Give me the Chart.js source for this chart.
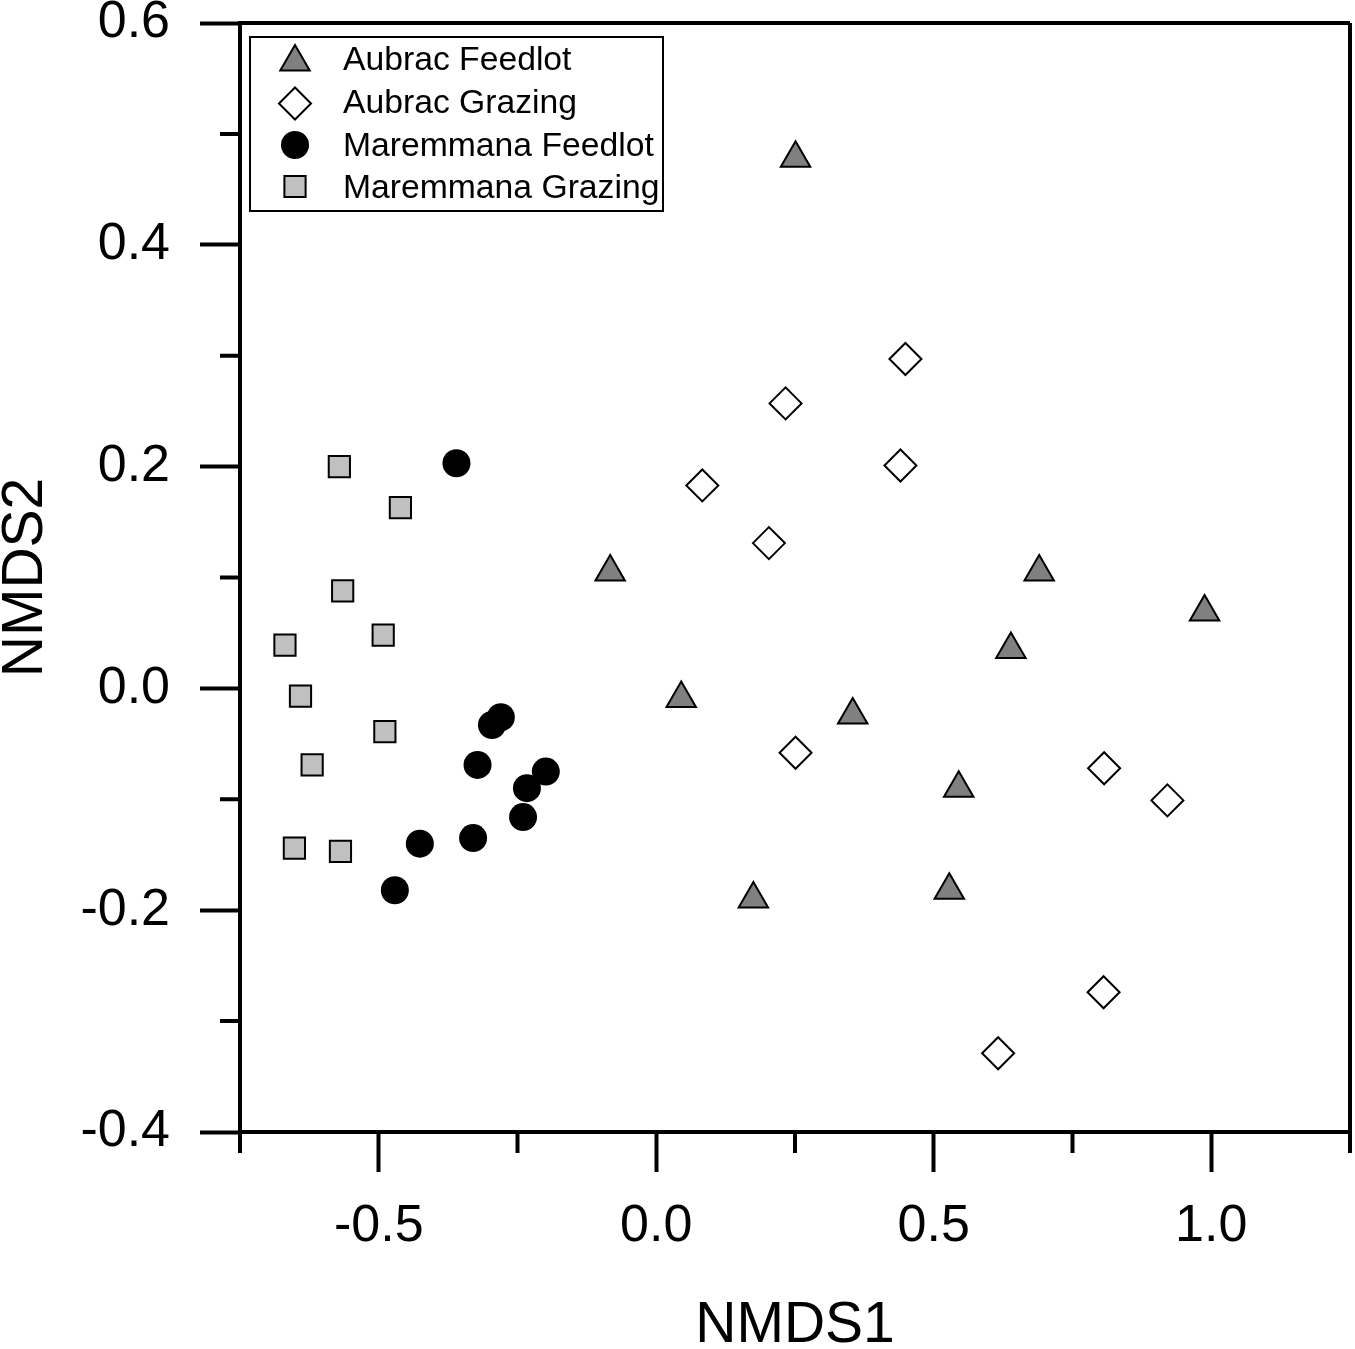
<!DOCTYPE html>
<html>
<head>
<meta charset="utf-8">
<script src="https://cdn.jsdelivr.net/npm/chart.js@4.4.1/dist/chart.umd.min.js"></script>
<style>
    html, body { margin: 0; padding: 0; background: #fff; overflow: hidden; }
    #contenedor { width: 1355px; height: 1349px; }
    canvas { display: block; }
</style>
</head>
<body>
<div id="contenedor"><canvas id="grafico" width="1355" height="1349"></canvas></div>
<script>
// -----------------------------
// DATOS
// -----------------------------
const etiquetas = ["Aubrac Feedlot", "Aubrac Grazing", "Maremmana Feedlot", "Maremmana Grazing"];

const aubracFeedlotX = [0.251, -0.083, 0.690, 0.988, 0.639, 0.045, 0.354, 0.545, 0.175, 0.528];
const aubracFeedlotY = [0.478, 0.105, 0.105, 0.069, 0.035, -0.009, -0.024, -0.090, -0.190, -0.182];

const aubracGrazingX = [0.449, 0.233, 0.083, 0.440, 0.203, 0.251, 0.807, 0.921, 0.806, 0.616];
const aubracGrazingY = [0.297, 0.257, 0.183, 0.201, 0.131, -0.058, -0.072, -0.101, -0.274, -0.329];

const maremmanaFeedlotX = [-0.360, -0.280, -0.296, -0.322, -0.199, -0.233, -0.240, -0.330, -0.426, -0.471];
const maremmanaFeedlotY = [0.203, -0.026, -0.033, -0.069, -0.075, -0.090, -0.116, -0.135, -0.140, -0.182];

const maremmanaGrazingX = [-0.571, -0.461, -0.565, -0.492, -0.669, -0.641, -0.489, -0.620, -0.652, -0.569];
const maremmanaGrazingY = [0.200, 0.163, 0.088, 0.048, 0.039, -0.007, -0.039, -0.069, -0.144, -0.147];

const ticksX = [-0.5, 0.0, 0.5, 1.0];
const ticksY = [-0.4, -0.2, 0.0, 0.2, 0.4, 0.6];
const menoresX = [-0.75, -0.25, 0.25, 0.75, 1.25];
const menoresY = [-0.3, -0.1, 0.1, 0.3, 0.5];

// -----------------------------
// UTILIDADES
// -----------------------------
function puntos(xs, ys) {
    return xs.map((x, i) => ({ x: x, y: ys[i] }));
}

const fuente = "'Liberation Sans', Arial, sans-serif";
Chart.defaults.font.family = fuente;
Chart.defaults.color = "#000";

// marco superior/derecho y ticks menores
const marcoPlugin = {
    id: "marco",
    beforeDatasetsDraw(chart) {
        const { ctx, chartArea: a, scales } = chart;
        ctx.save();
        ctx.strokeStyle = "#000";
        ctx.lineWidth = 4;
        ctx.lineCap = "butt";
        ctx.beginPath();
        ctx.moveTo(a.left, a.top);
        ctx.lineTo(a.right, a.top);
        ctx.moveTo(a.right, a.top);
        ctx.lineTo(a.right, a.bottom);
        for (const v of menoresX) {
            const px = scales.x.getPixelForValue(v);
            ctx.moveTo(px, a.bottom);
            ctx.lineTo(px, a.bottom + 21);
        }
        for (const v of menoresY) {
            const py = scales.y.getPixelForValue(v);
            ctx.moveTo(a.left - 20, py);
            ctx.lineTo(a.left, py);
        }
        ctx.stroke();
        ctx.restore();
    }
};

// leyenda con recuadro dentro del área
const leyendaPlugin = {
    id: "leyendaCaja",
    afterDraw(chart) {
        const ctx = chart.ctx;
        ctx.save();
        ctx.strokeStyle = "#000";
        ctx.lineWidth = 2;
        ctx.strokeRect(250, 37, 413, 174);

        chart.data.datasets.forEach((ds, i) => {
            const yMarca = 62 + i * 41.5;
            const yTexto = 61 + i * 42.7;
            ctx.fillStyle = ds.backgroundColor;
            ctx.strokeStyle = ds.borderColor;
            ctx.lineWidth = ds.borderWidth;
            Chart.helpers.drawPoint(ctx, {
                pointStyle: ds.pointStyle,
                radius: ds.pointRadius,
                borderWidth: ds.borderWidth,
                rotation: 0
            }, 295, yMarca);

            ctx.fillStyle = "#000";
            ctx.font = "33.7px " + fuente;
            ctx.textAlign = "left";
            ctx.textBaseline = "middle";
            ctx.fillText(ds.label, 343, yTexto);
        });
        ctx.restore();
    }
};

// -----------------------------
// GRÁFICO
// -----------------------------
const grafico = new Chart(document.getElementById("grafico"), {
    type: "scatter",
    data: {
        datasets: [
            {
                label: etiquetas[0],
                data: puntos(aubracFeedlotX, aubracFeedlotY),
                pointStyle: "triangle",
                pointRadius: 17,
                backgroundColor: "#808080",
                borderColor: "#000",
                borderWidth: 2
            },
            {
                label: etiquetas[1],
                data: puntos(aubracGrazingX, aubracGrazingY),
                pointStyle: "rectRot",
                pointRadius: 16,
                backgroundColor: "#fff",
                borderColor: "#000",
                borderWidth: 2
            },
            {
                label: etiquetas[2],
                data: puntos(maremmanaFeedlotX, maremmanaFeedlotY),
                pointStyle: "circle",
                pointRadius: 14,
                backgroundColor: "#000",
                borderColor: "#000",
                borderWidth: 0
            },
            {
                label: etiquetas[3],
                data: puntos(maremmanaGrazingX, maremmanaGrazingY),
                pointStyle: "rect",
                pointRadius: 15,
                backgroundColor: "#c0c0c0",
                borderColor: "#000",
                borderWidth: 2
            }
        ]
    },
    options: {
        responsive: false,
        animation: false,
        events: [],
        devicePixelRatio: 1,
        layout: { autoPadding: false, padding: { top: 23, right: 5, left: 0, bottom: 0 } },
        plugins: {
            legend: { display: false },
            tooltip: { enabled: false }
        },
        scales: {
            x: {
                type: "linear",
                min: -0.75,
                max: 1.25,
                afterBuildTicks: s => { s.ticks = ticksX.map(v => ({ value: v })); },
                afterFit: s => { s.height = 217; s.paddingLeft = 0; s.paddingRight = 0; },
                ticks: {
                    font: { size: 52 },
                    color: "#000",
                    padding: 23,
                    maxRotation: 0,
                    callback: v => v.toFixed(1)
                },
                grid: {
                    drawOnChartArea: false,
                    drawTicks: true,
                    tickLength: 40,
                    tickWidth: 4,
                    tickColor: "#000"
                },
                border: { display: true, color: "#000", width: 4 },
                title: {
                    display: true,
                    text: "NMDS1",
                    font: { size: 57, lineHeight: 0.8 },
                    color: "#000",
                    padding: 0
                }
            },
            y: {
                type: "linear",
                min: -0.4,
                max: 0.6,
                afterBuildTicks: s => { s.ticks = ticksY.map(v => ({ value: v })); },
                afterFit: s => { s.width = 240; s.paddingTop = 0; s.paddingBottom = 0; },
                ticks: {
                    font: { size: 52 },
                    color: "#000",
                    padding: 30,
                    callback: v => v.toFixed(1)
                },
                grid: {
                    drawOnChartArea: false,
                    drawTicks: true,
                    tickLength: 40,
                    tickWidth: 4,
                    tickColor: "#000"
                },
                border: { display: true, color: "#000", width: 4 },
                title: {
                    display: true,
                    text: "NMDS2",
                    font: { size: 57, lineHeight: 0.84 },
                    color: "#000",
                    padding: { top: 2, bottom: 0 }
                }
            }
        }
    },
    plugins: [marcoPlugin, leyendaPlugin]
});
</script>
</body>
</html>
